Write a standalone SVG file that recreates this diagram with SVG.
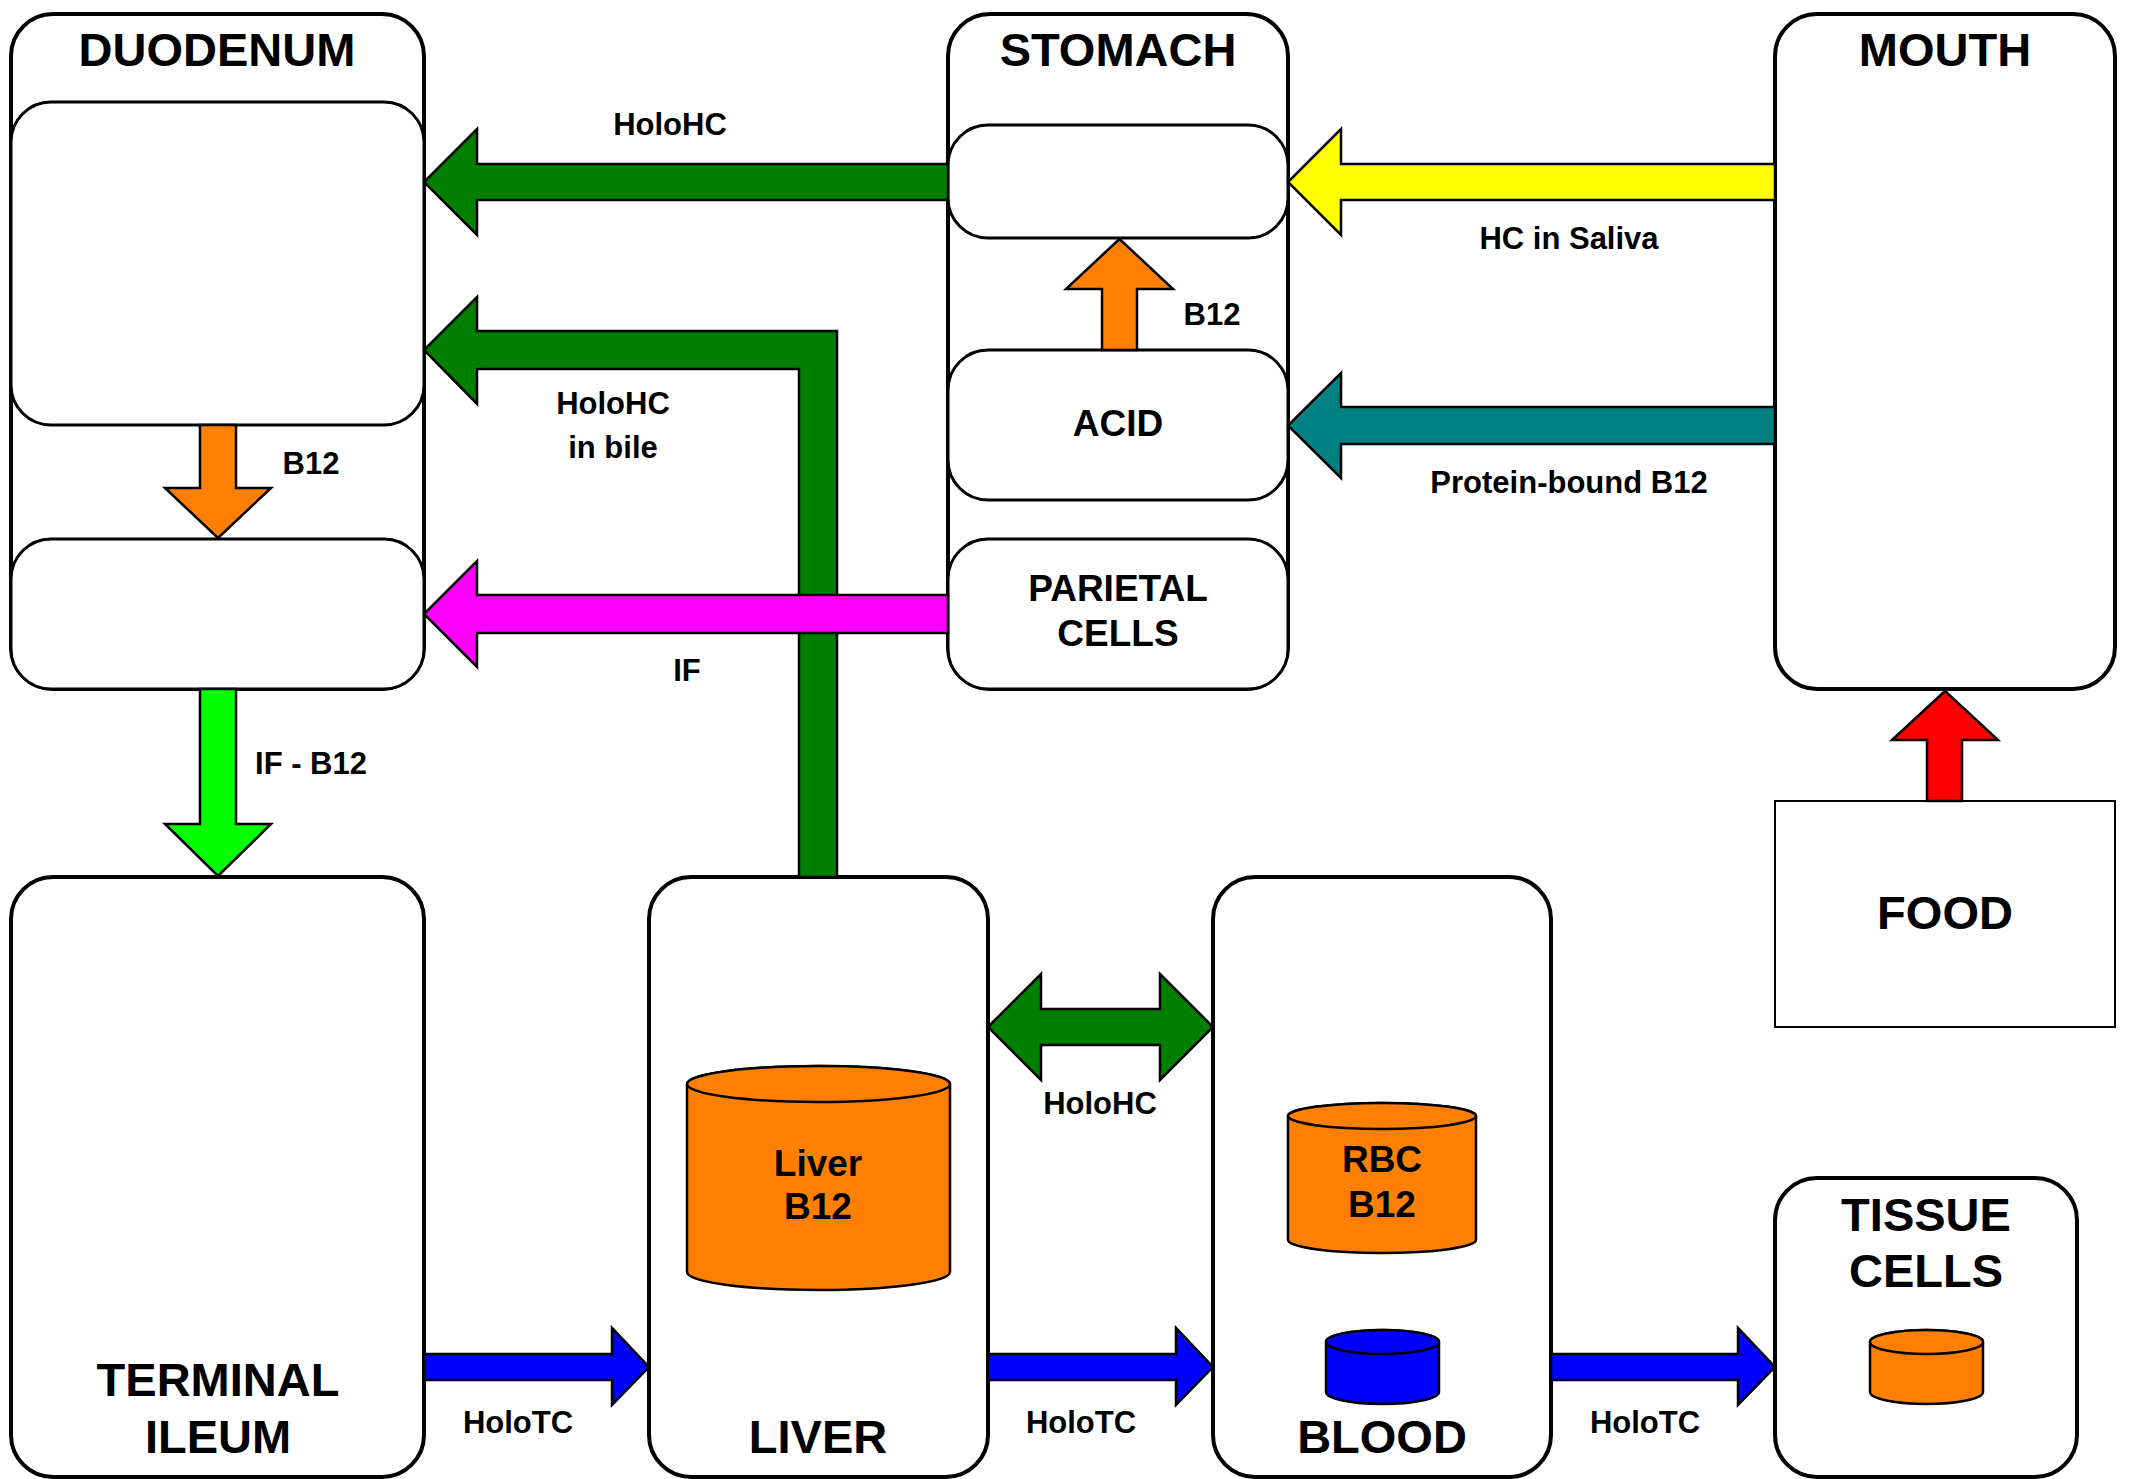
<svg xmlns="http://www.w3.org/2000/svg" width="2130" height="1479" viewBox="0 0 2130 1479">
<style>
.box{fill:#fff;stroke:#000;stroke-width:4}
.inner{fill:#fff;stroke:#000;stroke-width:3}
.arr{stroke:#000;stroke-width:2.5;stroke-linejoin:miter}
.cyl{stroke:#000;stroke-width:2.5}
text{font-family:"Liberation Sans",Arial,sans-serif;font-weight:bold;fill:#000;text-anchor:middle}
.t{font-size:47px}
.m{font-size:37px}
.l{font-size:31px}
</style>
<rect width="2130" height="1479" fill="#fff"/>
<g id="duodenum">
<rect class="box" x="11" y="14" width="413" height="675" rx="42"/>
<rect class="inner" x="11" y="102" width="413" height="323" rx="40"/>
<rect class="inner" x="11" y="539" width="413" height="150" rx="40"/>
<text class="t" x="217" y="66">DUODENUM</text>
</g>
<g id="stomach">
<rect class="box" x="948" y="14" width="340" height="675" rx="42"/>
<rect class="inner" x="948" y="125" width="340" height="113" rx="40"/>
<rect class="inner" x="948" y="350" width="340" height="150" rx="40"/>
<rect class="inner" x="948" y="539" width="340" height="150" rx="40"/>
<text class="t" x="1118" y="66">STOMACH</text>
<text class="m" x="1118" y="436">ACID</text>
<text class="m" x="1118" y="601">PARIETAL</text>
<text class="m" x="1118" y="646">CELLS</text>
</g>
<g id="mouth">
<rect class="box" x="1775" y="14" width="340" height="675" rx="42"/>
<text class="t" x="1945" y="66">MOUTH</text>
</g>
<g id="food">
<rect x="1775" y="801" width="340" height="226" fill="#fff" stroke="#000" stroke-width="2"/>
<text class="t" x="1945" y="929">FOOD</text>
</g>
<g id="terminal-ileum">
<rect class="box" x="11" y="877" width="413" height="600" rx="42"/>
<text class="t" x="218" y="1396">TERMINAL</text>
<text class="t" x="218" y="1453">ILEUM</text>
</g>
<g id="liver">
<rect class="box" x="649" y="877" width="339" height="600" rx="42"/>
<path class="cyl" fill="#FF8000" d="M687,1084 L687,1272 A131.5,18 0 0 0 950,1272 L950,1084 A131.5,18 0 0 0 687,1084 Z"/>
<ellipse class="cyl" fill="#FF8000" cx="818.5" cy="1084" rx="131.5" ry="18"/>
<text class="m" x="818" y="1176">Liver</text>
<text class="m" x="818" y="1219">B12</text>
<text class="t" x="818" y="1453">LIVER</text>
</g>
<g id="blood">
<rect class="box" x="1213" y="877" width="338" height="600" rx="42"/>
<path class="cyl" fill="#FF8000" d="M1288,1116 L1288,1240 A94,13 0 0 0 1476,1240 L1476,1116 A94,13 0 0 0 1288,1116 Z"/>
<ellipse class="cyl" fill="#FF8000" cx="1382" cy="1116" rx="94" ry="13"/>
<text class="m" x="1382" y="1172">RBC</text>
<text class="m" x="1382" y="1217">B12</text>
<path class="cyl" fill="#0000FF" d="M1326,1342 L1326,1392 A56.5,12 0 0 0 1439,1392 L1439,1342 A56.5,12 0 0 0 1326,1342 Z"/>
<ellipse class="cyl" fill="#0000FF" cx="1382.5" cy="1342" rx="56.5" ry="12"/>
<text class="t" x="1382" y="1453">BLOOD</text>
</g>
<g id="tissue-cells">
<rect class="box" x="1775" y="1178" width="302" height="299" rx="42"/>
<text class="t" x="1926" y="1231">TISSUE</text>
<text class="t" x="1926" y="1287">CELLS</text>
<path class="cyl" fill="#FF8000" d="M1870,1342 L1870,1392 A56.5,12 0 0 0 1983,1392 L1983,1342 A56.5,12 0 0 0 1870,1342 Z"/>
<ellipse class="cyl" fill="#FF8000" cx="1926.5" cy="1342" rx="56.5" ry="12"/>
</g>
<g id="connectors">
<polygon class="arr" fill="#007F00" points="948,164 477,164 477,129 424,182 477,235 477,200 948,200"/>
<polygon class="arr" fill="#007F00" points="799,877 799,369 477,369 477,404 424,350 477,297 477,331 837,331 837,877"/>
<polygon class="arr" fill="#FF00FF" points="948,595 477,595 477,561 424,614 477,667 477,633 948,633"/>
<polygon class="arr" fill="#FF8000" points="200,425 236,425 236,488 271,488 218,538 165,488 200,488"/>
<polygon class="arr" fill="#00FF00" points="200,689 236,689 236,824 271,824 218,876 165,824 200,824"/>
<polygon class="arr" fill="#FF8000" points="1102,350 1102,289 1066,289 1119.5,239 1173,289 1137,289 1137,350"/>
<polygon class="arr" fill="#FFFF00" points="1775,164 1341,164 1341,129 1288,182 1341,235 1341,200 1775,200"/>
<polygon class="arr" fill="#008080" points="1775,407 1341,407 1341,373 1288,425.5 1341,478 1341,444 1775,444"/>
<polygon class="arr" fill="#FF0000" points="1927,801 1927,740 1892,740 1945,691 1998,740 1962,740 1962,801"/>
<polygon class="arr" fill="#007F00" points="988,1027 1041,974 1041,1009 1160,1009 1160,974 1213,1027 1160,1080 1160,1045 1041,1045 1041,1080"/>
<polygon class="arr" fill="#0000FF" points="424,1354 612,1354 612,1328 649,1367 612,1405 612,1380 424,1380"/>
<polygon class="arr" fill="#0000FF" points="988,1354 1176,1354 1176,1328 1213,1367 1176,1405 1176,1380 988,1380"/>
<polygon class="arr" fill="#0000FF" points="1551,1354 1738,1354 1738,1328 1775,1367 1738,1405 1738,1380 1551,1380"/>
<text class="l" x="670" y="135">HoloHC</text>
<text class="l" x="613" y="414">HoloHC</text>
<text class="l" x="613" y="458">in bile</text>
<text class="l" x="311" y="474">B12</text>
<text class="l" x="687" y="681">IF</text>
<text class="l" x="311" y="774">IF - B12</text>
<text class="l" x="1212" y="325">B12</text>
<text class="l" x="1569" y="249">HC in Saliva</text>
<text class="l" x="1569" y="493">Protein-bound B12</text>
<text class="l" x="1100" y="1114">HoloHC</text>
<text class="l" x="518" y="1433">HoloTC</text>
<text class="l" x="1081" y="1433">HoloTC</text>
<text class="l" x="1645" y="1433">HoloTC</text>
</g>
</svg>
